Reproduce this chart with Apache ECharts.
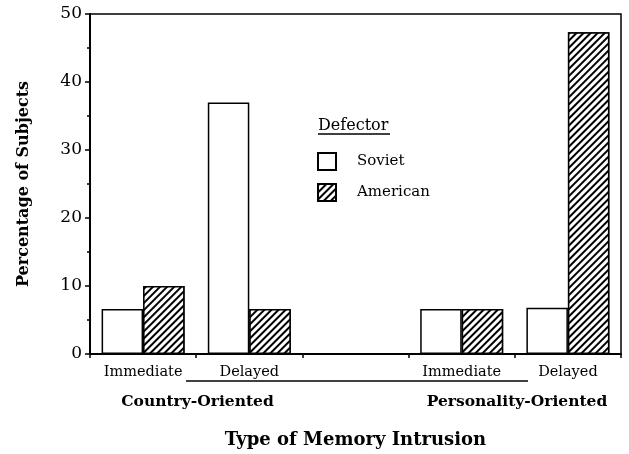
<!DOCTYPE html>
<html>
<head>
<meta charset="utf-8">
<script src="https://cdn.jsdelivr.net/npm/echarts@6/dist/echarts.min.js"></script>
<style>html,body{margin:0;padding:0;background:#fff;}#chart{width:629px;height:454px;}</style>
</head>
<body>
<div id="chart"></div>
<script>
const categories = ['Immediate', 'Delayed', '', 'Immediate', 'Delayed'];
const sovietValues = [6.6, 37, null, 6.6, 6.8];
const americanValues = [10, 6.6, null, 6.6, 47.3];
const groupLabels = ['Country-Oriented', 'Personality-Oriented'];
const yTicks = [0, 10, 20, 30, 40, 50];

const serif = 'DejaVu Serif';
const chart = echarts.init(document.getElementById('chart'));
const hatch = {
  symbol: 'rect',
  symbolSize: 1,
  dashArrayX: [1, 0],
  dashArrayY: [1.3, 2.6],
  rotation: -Math.PI / 4,
  color: '#000',
  backgroundColor: '#fff'
};
chart.setOption({
  animation: false,
  backgroundColor: '#fff',
  grid: { left: 90, right: 8, top: 14, bottom: 97, show: true, borderColor: '#000', borderWidth: 1.5, backgroundColor: 'transparent' },
  legend: {
    orient: 'vertical', left: 312, top: 147, itemWidth: 18, itemHeight: 17, itemGap: 12,
    icon: 'rect',
    data: ['Soviet', 'American'],
    formatter: n => '{a|' + n + '}',
    textStyle: { color: '#000', fontFamily: serif, fontSize: 15, rich: { a: { fontFamily: serif, fontSize: 15, color: '#000', padding: [0, 0, 0, 16] } } }
  },
  xAxis: {
    type: 'category', data: categories,
    axisLine: { lineStyle: { color: '#000', width: 2 } },
    axisTick: { show: true, length: 4, lineStyle: { color: '#000', width: 1.5 } },
    axisLabel: { color: '#000', fontFamily: serif, fontSize: 14.5, margin: 11 },
    name: 'Type of Memory Intrusion', nameLocation: 'middle', nameGap: 77,
    nameTextStyle: { color: '#000', fontFamily: serif, fontWeight: 'bold', fontSize: 18 }
  },
  yAxis: {
    type: 'value', min: yTicks[0], max: yTicks[yTicks.length - 1], interval: 10,
    axisLine: { show: true, lineStyle: { color: '#000', width: 2 } },
    axisTick: { show: true, length: 5, lineStyle: { color: '#000', width: 1.5 } },
    minorTick: { show: true, splitNumber: 2, length: 3, lineStyle: { color: '#000', width: 1.5 } },
    splitLine: { show: false },
    axisLabel: { color: '#000', fontFamily: serif, fontSize: 17, margin: 8 },
    name: 'Percentage of Subjects', nameLocation: 'middle', nameGap: 58,
    nameTextStyle: { color: '#000', fontFamily: serif, fontWeight: 'bold', fontSize: 16 }
  },
  series: [
    { name: 'Soviet', type: 'bar', data: sovietValues, barWidth: 41.5, barGap: '0%',
      itemStyle: { color: '#fff', borderColor: '#000', borderWidth: 1.5 } },
    { name: 'American', type: 'bar', data: americanValues, barWidth: 41.5, barGap: '0%',
      itemStyle: { color: '#fff', borderColor: '#000', borderWidth: 1.5, decal: hatch } }
  ],
  graphic: [
    { type: 'text', left: 318, top: 118, style: { text: 'Defector', fontFamily: serif, fontSize: 16, fill: '#000' } },
    { type: 'line', shape: { x1: 318, y1: 134, x2: 390, y2: 134 }, style: { stroke: '#000', lineWidth: 1.3 } },
    { type: 'line', shape: { x1: 186, y1: 381, x2: 528, y2: 381 }, style: { stroke: '#000', lineWidth: 1.3 } },
    { type: 'text', x: 197.5, y: 402, style: { text: groupLabels[0], fontFamily: serif, fontWeight: 'bold', fontSize: 15.5, fill: '#000', align: 'center', verticalAlign: 'middle' } },
    { type: 'text', x: 517, y: 402, style: { text: groupLabels[1], fontFamily: serif, fontWeight: 'bold', fontSize: 15.5, fill: '#000', align: 'center', verticalAlign: 'middle' } }
  ]
});
</script>
</body>
</html>
